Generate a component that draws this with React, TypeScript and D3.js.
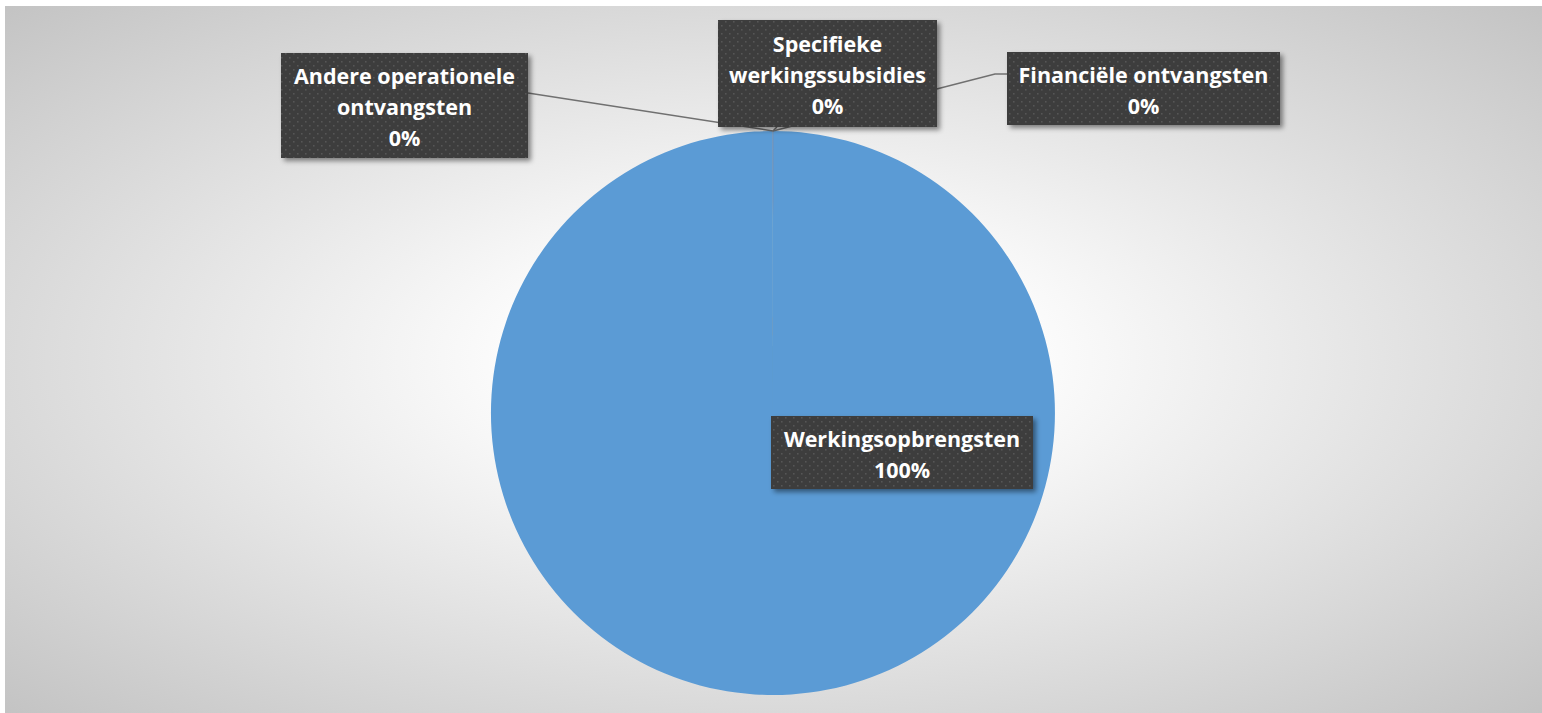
import * as d3 from 'd3'

// categories + values (share of receipts)
const categories = [
  'Werkingsopbrengsten',
  'Specifieke werkingssubsidies',
  'Andere operationele ontvangsten',
  'Financiële ontvangsten',
]
const values = [99.994, 0.002, 0.002, 0.002]
const sliceColors = ['#5B9BD5', '#ED7D31', '#A5A5A5', '#FFC000']

// label text lines as Excel wrapped them
const labelLines = [
  ['Werkingsopbrengsten'],
  ['Specifieke', 'werkingssubsidies'],
  ['Andere operationele', 'ontvangsten'],
  ['Financiële ontvangsten'],
]

const W = 1542
const H = 713
const cx = 773
const cy = 413
const radius = 282

// label boxes, relative to pie centre: [x0, y0, x1, y1]
const boxes = [
  [-2, 3, 260, 76],
  [-55, -393, 164, -286],
  [-492, -360, -245, -255],
  [234, -361, 507, -288],
]

export default function App() {
  const pie = d3.pie<number>().sort(null).value(d => d)
  const arcs = pie(values)
  const arc = d3.arc<d3.PieArcDatum<number>>().innerRadius(0).outerRadius(radius)
  const pct = d3.format('.0%')
  const total = d3.sum(values)

  const edge = (a: d3.PieArcDatum<number>) => {
    const m = (a.startAngle + a.endAngle) / 2
    return [cx + radius * Math.sin(m), cy - radius * Math.cos(m)]
  }

  // leader lines (drawn under the boxes)
  const leaders: string[] = []
  arcs.forEach((a, i) => {
    if (i === 0) return
    const [ex, ey] = edge(a)
    const b = boxes[i]
    if (i === 1) leaders.push(`M${ex},${ey}L${ex + 4},${cy + b[3]}`)
    if (i === 2) leaders.push(`M${ex},${ey}L${cx + b[2]},${cy + b[1] + 40}`)
    if (i === 3) leaders.push(`M${ex},${ey}L${cx + b[0] - 12},${cy + b[1] + 22}L${cx + b[0]},${cy + b[1] + 22}`)
  })

  return (
    <div style={{ position: 'fixed', left: 0, top: 0 }}>
      <svg width={W} height={H} style={{ display: 'block', background: '#fff' }}>
        <defs>
          <radialGradient id="bg" cx="0.5" cy="0.5" r="0.71">
            <stop offset="0" stopColor="#ffffff" />
            <stop offset="0.25" stopColor="#fbfbfb" />
            <stop offset="1" stopColor="#c3c3c3" />
          </radialGradient>
          <pattern id="dots" width="8" height="8" patternUnits="userSpaceOnUse">
            <rect width="8" height="8" fill="#3e3e3e" />
            <rect x="1" y="1" width="1.5" height="1.5" fill="#575757" />
            <rect x="5" y="5" width="1.5" height="1.5" fill="#575757" />
          </pattern>
          <filter id="shadow" x="-10%" y="-20%" width="130%" height="160%">
            <feDropShadow dx="3" dy="3" stdDeviation="2.5" floodColor="#000" floodOpacity="0.45" />
          </filter>
          <linearGradient id="hair" x1="0" y1="0" x2="0" y2="1">
            <stop offset="0" stopColor="#6f8fb8" stopOpacity="1" />
            <stop offset="0.8" stopColor="#6f8fb8" stopOpacity="0.8" />
            <stop offset="1" stopColor="#6f8fb8" stopOpacity="0" />
          </linearGradient>
        </defs>
        <rect x={5} y={6} width={W - 5} height={H - 6} fill="url(#bg)" />

        <g transform={`translate(${cx},${cy})`}>
          {arcs.map((a, i) => (
            <path key={categories[i]} d={arc(a) || ''} fill={sliceColors[i]} />
          ))}
        </g>
        {/* hairline where the tiny slices sit */}
        <rect x={cx - 0.5} y={cy - radius} width={1} height={88} fill="url(#hair)" />

        {leaders.map((d, i) => (
          <path key={i} d={d} fill="none" stroke="#707070" strokeWidth={1.5} />
        ))}

        {arcs.map((a, i) => {
          const b = boxes[i]
          const x0 = cx + b[0]
          const y0 = cy + b[1]
          const w = b[2] - b[0]
          const h = b[3] - b[1]
          const lines = [...labelLines[i], pct(a.data / total)]
          const lh = 31
          const top = y0 + h / 2 - (lines.length * lh) / 2
          return (
            <g key={categories[i]}>
              <rect x={x0} y={y0} width={w} height={h} fill="url(#dots)" filter="url(#shadow)" />
              {lines.map((t, j) => (
                <text
                  key={j}
                  x={x0 + w / 2}
                  y={top + lh * j + lh / 2 + 2}
                  dy="0.36em"
                  textAnchor="middle"
                  fill="#fff"
                  fontFamily="'Open Sans', sans-serif"
                  fontWeight="bold"
                  fontSize={21.5}
                >
                  {t}
                </text>
              ))}
            </g>
          )
        })}
      </svg>
    </div>
  )
}
